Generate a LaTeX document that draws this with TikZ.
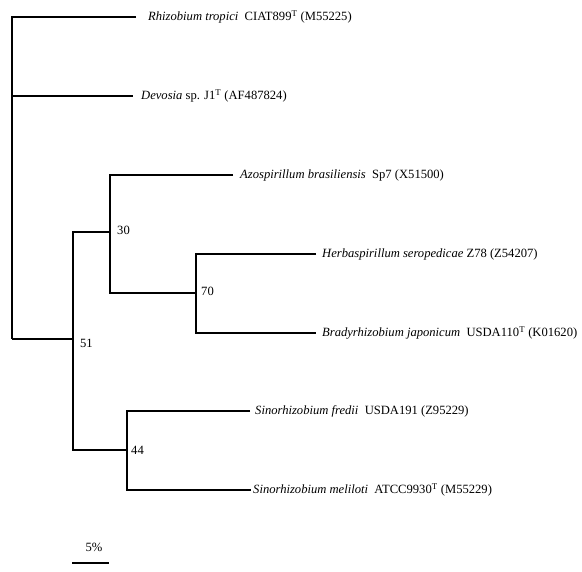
\documentclass[tikz,border=0pt]{standalone}
\usepackage{fontspec}
\setmainfont{Liberation Serif}
\tikzset{
  branch/.style = {line width=1.1pt},
  heavy/.style = {line width=1.7pt},
  leaf/.style = {anchor=west, inner sep=4pt, font=\fontsize{12.6}{15}\selectfont},
  boot/.style = {anchor=west, inner sep=0pt, font=\fontsize{12.6}{15}\selectfont}
}
\newcommand{\typestrain}{\textsuperscript{T}}

\begin{document}
\begin{tikzpicture}[x=1pt,y=-1pt]
  \useasboundingbox (0,0) rectangle (582,572);
  % internal nodes
  \coordinate (root) at (12,339);
  \coordinate (n51) at (73,339);
  \coordinate (n30) at (110,232);
  \coordinate (n70) at (196,293);
  \coordinate (n44) at (127,450);
  % leaves
  \node[leaf, inner xsep=12pt] (rtro) at (136,17) {\textit{Rhizobium tropici}\enspace CIAT899\typestrain{} (M55225)};
  \node[leaf, inner xsep=8pt] (devo) at (133,96) {\textit{Devosia} sp. J1\typestrain{} (AF487824)};
  \node[leaf, inner xsep=7pt] (azos) at (233,175) {\textit{Azospirillum brasiliensis}\enspace Sp7 (X51500)};
  \node[leaf, inner xsep=6pt] (herb) at (316,254) {\textit{Herbaspirillum seropedicae} Z78 (Z54207)};
  \node[leaf, inner xsep=6pt] (brad) at (316,333) {\textit{Bradyrhizobium japonicum}\enspace USDA110\typestrain{} (K01620)};
  \node[leaf, inner xsep=5pt] (fred) at (250,411) {\textit{Sinorhizobium fredii}\enspace USDA191 (Z95229)};
  \node[leaf, inner xsep=2pt] (meli) at (251,490) {\textit{Sinorhizobium meliloti}\enspace ATCC9930\typestrain{} (M55229)};
  % branches
  \draw[branch] (rtro.west) -| (root);
  \draw[heavy] (root) -- (n51);
  \draw[branch] (root |- devo.west) -- (devo.west);
  \draw[branch] (n30) -| (n51) |- (n44);
  \draw[branch] (azos.west) -| (n30) |- (n70);
  \draw[heavy] (herb.west) -| (n70) |- (brad.west);
  \draw[branch] (fred.west) -| (n44) |- (meli.west);
  % bootstrap values
  \node[boot] (b51) at ([xshift=7pt,yshift=-4pt]n51) {51};
  \node[boot] (b30) at ([xshift=7pt,yshift=2pt]n30) {30};
  \node[boot] (b70) at ([xshift=5pt,yshift=2pt]n70) {70};
  \node[boot] (b44) at ([xshift=4pt]n44) {44};
  % scale bar
  \coordinate (sa) at (72,563);
  \coordinate (sb) at (109,563);
  \draw[branch] (sa) -- (sb);
  \node[font=\fontsize{12.6}{15}\selectfont] (pct) at (94,547) {5\%};
\end{tikzpicture}
\end{document}
